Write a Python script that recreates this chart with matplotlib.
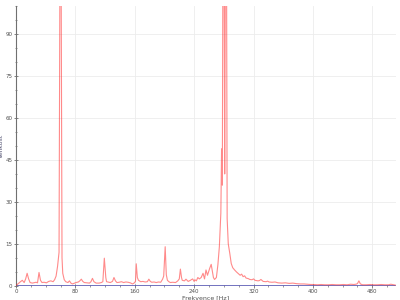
import matplotlib
matplotlib.use("Agg")
import matplotlib.pyplot as plt
from matplotlib.ticker import MultipleLocator

# spectrum (Hz, magnitude), ten points per row
freq = [0, 3, 6, 8.5, 11, 13, 15, 17, 19, 22,
        25, 27, 29, 31, 33, 35, 38, 41, 44, 47,
        50, 52, 54, 56, 58, 60, 62, 63, 65, 67,
        70, 72, 74, 76, 79, 81, 84, 86, 88, 90,
        92, 95, 99, 101, 103, 105, 108, 112, 115, 117,
        119, 121, 122, 125, 127, 130, 132, 134, 136, 139,
        142, 145, 148, 151, 154, 157, 159, 161, 162, 163.5,
        165, 168, 171, 174, 177, 179, 181, 183, 186, 189,
        192, 195, 197.5, 199, 201, 202.5, 204, 206, 208, 211,
        215, 218, 220, 221.5, 223, 224, 227, 229, 232, 235,
        238, 240, 241, 243, 245, 247, 249.5, 252, 254, 256,
        258, 261, 263, 265, 266, 267.5, 270, 272, 274, 276,
        277, 278, 279.5, 281.2, 283, 284.5, 286, 288, 290, 292,
        294.5, 297, 299, 302, 304, 306, 308, 310, 313, 315,
        318, 320, 322, 326, 328, 330, 333, 337, 339, 341,
        345, 349, 353, 358, 363, 368, 373, 378, 383, 388,
        393, 397, 401, 406, 411, 416, 421, 426, 431, 436,
        441, 446, 451, 455, 458, 460, 462, 464, 467, 472,
        477, 482, 487, 492, 497, 502, 505, 507, 509, 511]
magnitude = [0.2, 0.8, 1.5, 2.0, 1.2, 2.5, 4.5, 2.5, 1.2, 1.0,
             1.2, 1.3, 1.1, 4.8, 2.0, 1.2, 1.3, 1.1, 1.6, 1.8,
             1.5, 2.2, 3.5, 7.0, 12.0, 180, 10.0, 4.5, 2.2, 1.5,
             1.2, 1.8, 1.0, 0.7, 1.0, 1.2, 1.4, 1.8, 2.4, 1.6,
             1.2, 1.1, 1.0, 1.5, 2.7, 1.5, 1.0, 1.0, 1.2, 1.5,
             9.9, 3.0, 1.5, 1.3, 1.2, 1.6, 3.0, 1.8, 1.2, 1.3,
             1.5, 1.2, 1.4, 1.3, 1.1, 0.7, 1.0, 1.6, 7.9, 3.0,
             2.0, 1.5, 1.6, 1.4, 1.5, 2.4, 1.6, 1.3, 1.4, 1.2,
             1.4, 1.3, 2.4, 3.5, 14.0, 4.0, 2.0, 1.5, 1.2, 1.3,
             1.2, 1.8, 2.5, 6.0, 3.0, 2.0, 1.8, 2.4, 1.6, 2.0,
             2.5, 1.6, 2.2, 1.8, 3.0, 2.5, 3.0, 4.5, 2.5, 5.7,
             3.8, 6.3, 7.7, 4.5, 3.0, 2.3, 3.0, 7.5, 14.0, 26.0,
             49.0, 36.0, 190, 40.0, 190, 24.0, 15.0, 11.7, 8.0, 6.5,
             5.7, 5.0, 4.5, 3.8, 4.2, 3.3, 3.6, 2.8, 2.6, 2.3,
             2.2, 2.5, 2.0, 1.8, 1.9, 2.3, 1.6, 1.5, 1.7, 1.4,
             1.3, 1.4, 1.1, 1.0, 1.1, 0.9, 1.0, 0.8, 0.7, 0.7,
             0.6, 0.5, 0.5, 0.4, 0.5, 0.4, 0.4, 0.5, 0.4, 0.4,
             0.5, 0.4, 0.6, 0.5, 0.6, 0.8, 1.8, 0.7, 0.4, 0.4,
             0.5, 0.4, 0.4, 0.5, 0.4, 0.4, 0.6, 0.5, 0.4, 0.3]
baseline_freq = [0, 511]
baseline = [0, 0]

fig = plt.figure(figsize=(4, 3), dpi=100)
ax = fig.add_axes([0.04, 0.047, 0.95, 0.933])

ax.plot(freq, magnitude, color="#ff2a2a", alpha=0.55, linewidth=0.8, zorder=3)
ax.plot(baseline_freq, baseline, color="#5a5ab4", linewidth=1.2, zorder=2)

ax.set_xlim(0, 512)
ax.set_ylim(0, 100)
ax.xaxis.set_major_locator(MultipleLocator(80))
ax.xaxis.set_minor_locator(MultipleLocator(20))
ax.yaxis.set_major_locator(MultipleLocator(15))
ax.yaxis.set_minor_locator(MultipleLocator(5))
ax.grid(True, which="major", color="#ececec", linewidth=0.6)
ax.set_axisbelow(True)

for side in ("top", "right", "bottom"):
    ax.spines[side].set_visible(False)
ax.spines["left"].set_color("#707070")
ax.spines["left"].set_linewidth(0.8)

ax.tick_params(which="both", direction="inout", colors="#707070",
               labelsize=4, labelcolor="#505050", pad=1)
ax.tick_params(which="major", length=3, width=0.6)
ax.tick_params(which="minor", length=2, width=0.5)

ax.set_xlabel("Frekvence [Hz]", fontsize=4.5, color="#505050", labelpad=1)
ax.set_ylabel("Velikost", fontsize=4.5, color="#505070", labelpad=1)

fig.savefig("out.png", dpi=100)
